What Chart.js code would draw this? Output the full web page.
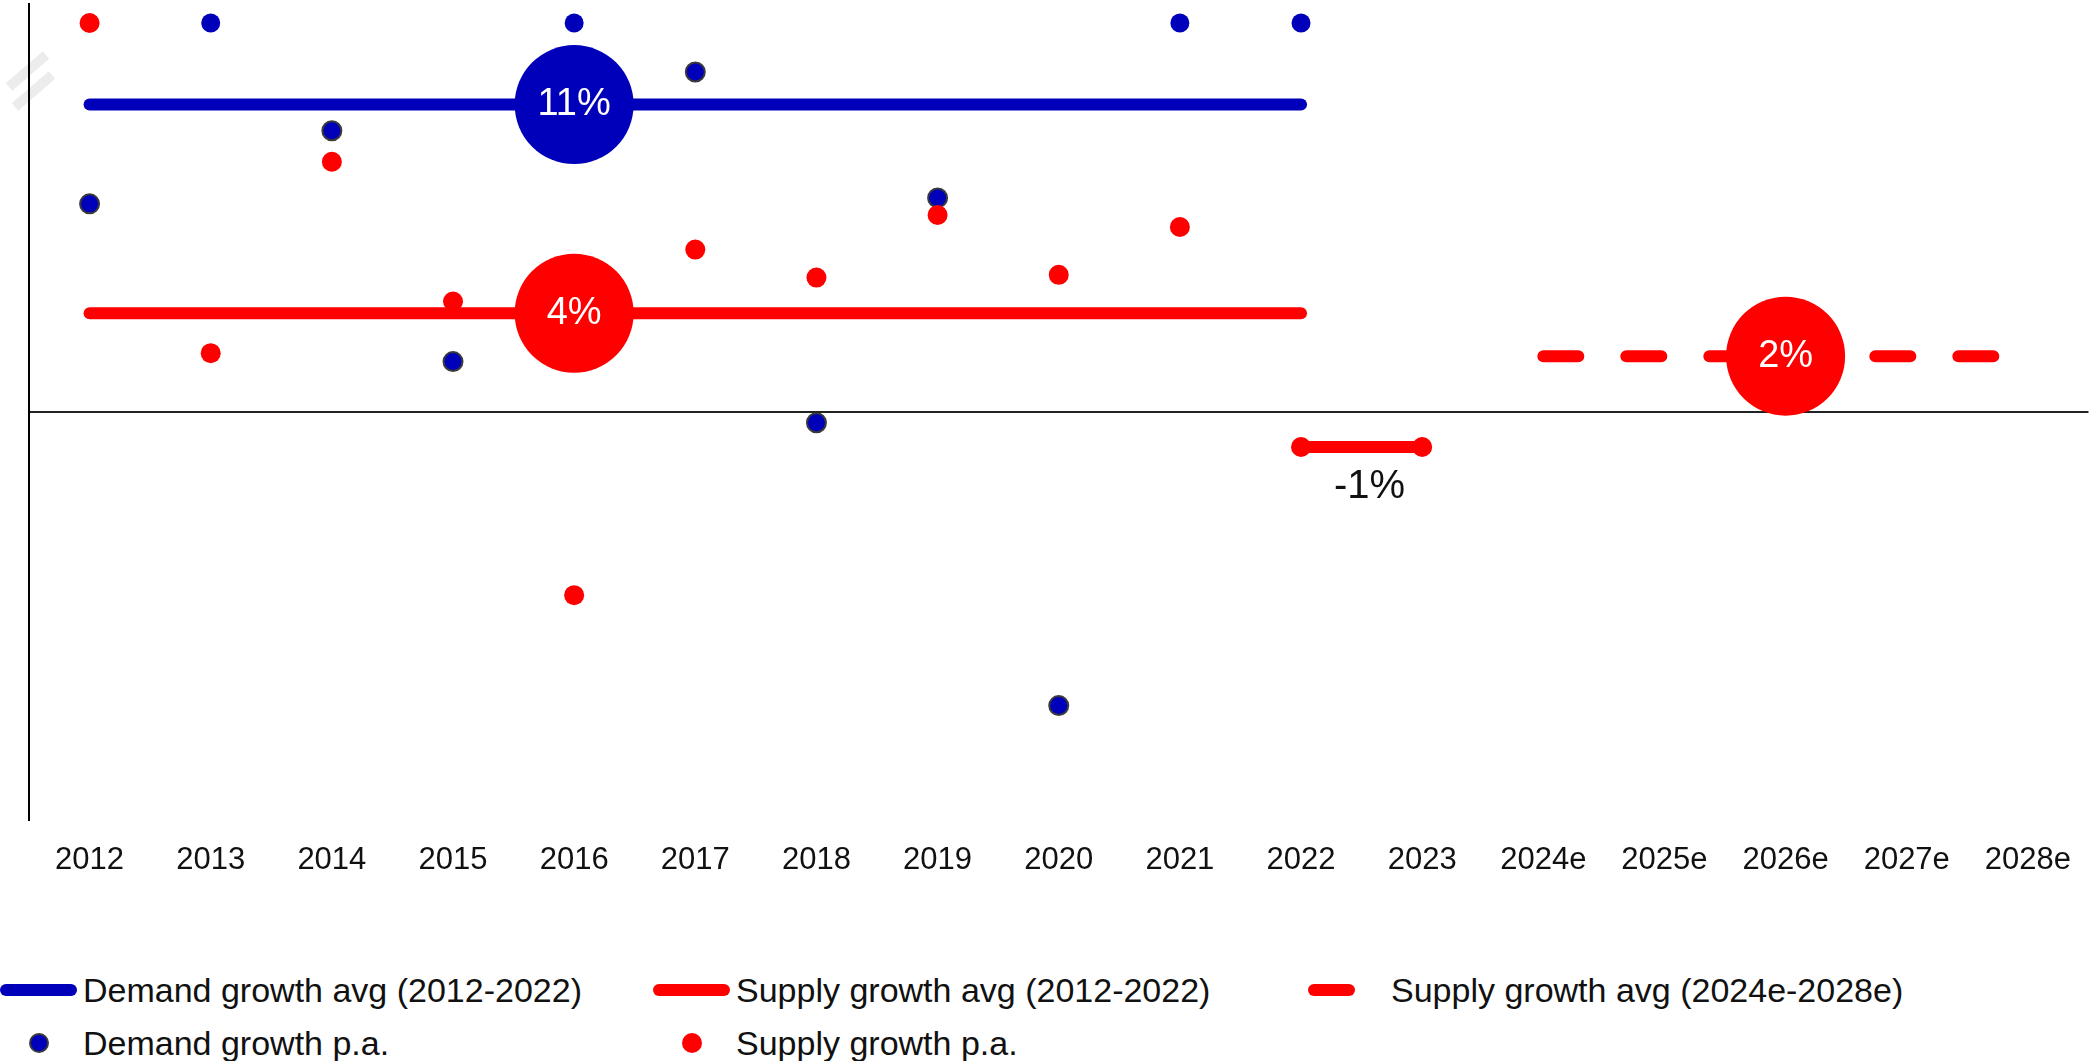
<!DOCTYPE html>
<html>
<head>
<meta charset="utf-8">
<title>Demand vs supply growth</title>
<script src="https://cdn.jsdelivr.net/npm/chart.js"></script>
<style>
  html, body { margin: 0; padding: 0; background: #fff; }
  body { width: 2093px; height: 1061px; position: relative; overflow: hidden; font-family: 'Liberation Sans', Arial, sans-serif; color: #111; }
  .chart-box { position: absolute; left: 0; top: 0; width: 2093px; height: 905px; }
  #legend { position: absolute; left: 0; top: 970px; width: 2093px; display: grid; grid-template-columns: 653px 655px 785px; row-gap: 13px; }
  .item { display: flex; align-items: center; height: 40px; font-size: 34px; white-space: nowrap; }
  .sym { width: 80px; height: 24px; position: relative; margin-right: 3px; flex: none; }
  .sym .bar { position: absolute; left: 0; top: 6px; height: 12px; border-radius: 6px; }
  .sym .dot { position: absolute; left: 29px; top: 2px; width: 20px; height: 20px; border-radius: 50%; box-sizing: border-box; }
</style>
</head>
<body>
<div class="chart-box"><canvas id="growthChart"></canvas></div>
<div id="legend"></div>

<script>
  // categories
  const years = ['2012', '2013', '2014', '2015', '2016', '2017', '2018', '2019', '2020',
                 '2021', '2022', '2023', '2024e', '2025e', '2026e', '2027e', '2028e'];

  // growth p.a. in % (14.3 = point sits at the axis break, real value is off the scale)
  const demandGrowth = [7.65, 14.3, 10.34, 1.85, 14.3, 12.5, -0.4, 7.87, -10.8, 14.3, 14.3,
                        null, null, null, null, null, null];
  const supplyGrowth = [14.3, 2.16, 9.2, 4.06, -6.74, 5.97, 4.94, 7.24, 5.04, 6.8, null,
                        null, null, null, null, null, null];
  const demandBroken = [false, true, false, false, true, false, false, false, false, true, true,
                        false, false, false, false, false, false];

  // averages
  const demandAvg = [11.3, 11.3, 11.3, 11.3, 11.3, 11.3, 11.3, 11.3, 11.3, 11.3, 11.3,
                     null, null, null, null, null, null];
  const supplyAvg = [3.63, 3.63, 3.63, 3.63, 3.63, 3.63, 3.63, 3.63, 3.63, 3.63, 3.63,
                     null, null, null, null, null, null];
  const supplyDip = [null, null, null, null, null, null, null, null, null, null, -1.29, -1.29,
                     null, null, null, null, null];
  const supplyOutlook = [null, null, null, null, null, null, null, null, null, null, null, null,
                         2.05, 2.05, 2.05, 2.05, 2.05];

  const avgLabels = { demand: '11%', supply: '4%', dip: '-1%', outlook: '2%' };

  const BLUE = '#0000BB';
  const RED = '#FF0000';
  const FONT = "'Liberation Sans', Arial, sans-serif";

  // big round marker only on one category
  const bubbleAt = (idx) => years.map((_, i) => (i === idx ? 59.5 : 0));

  // draws the percentages inside the bubbles / under the dip segment
  const tagPlugin = {
    id: 'tags',
    afterDatasetsDraw(chart) {
      const ctx = chart.ctx;
      chart.data.datasets.forEach((ds, i) => {
        if (!ds.tag) return;
        const pts = chart.getDatasetMeta(i).data.filter(p => !p.skip);
        let x, y;
        if (ds.tag.at != null) {
          const p = chart.getDatasetMeta(i).data[ds.tag.at];
          x = p.x; y = p.y;
        } else {
          x = (pts[0].x + pts[pts.length - 1].x) / 2;
          y = pts[0].y;
        }
        ctx.save();
        ctx.font = ds.tag.size + 'px ' + FONT;
        ctx.fillStyle = ds.tag.color;
        ctx.textAlign = 'center';
        ctx.textBaseline = 'middle';
        ctx.fillText(ds.tag.text, x + (ds.tag.dx || 0), y + (ds.tag.dy || 0));
        ctx.restore();
      });
    }
  };

  // the little "//" break sign on the y axis
  const breakPlugin = {
    id: 'axisBreak',
    beforeDraw(chart) {
      const ctx = chart.ctx;
      const l = chart.chartArea.left;
      ctx.save();
      ctx.strokeStyle = '#ececec';
      ctx.lineWidth = 10;
      ctx.beginPath();
      ctx.moveTo(l - 20, 87); ctx.lineTo(l + 17, 55);
      ctx.moveTo(l - 14, 107); ctx.lineTo(l + 23, 75);
      ctx.stroke();
      ctx.restore();
    }
  };

  const htmlLegend = {
    id: 'htmlLegend',
    afterUpdate(chart) {
      const box = document.getElementById('legend');
      box.innerHTML = '';
      chart.data.datasets.forEach(ds => {
        if (!ds.inLegend) return;
        const item = document.createElement('div');
        item.className = 'item';
        const sym = document.createElement('div');
        sym.className = 'sym';
        const mark = document.createElement('div');
        if (ds.showLine === false) {
          mark.className = 'dot';
          mark.style.background = ds.backgroundColor;
          if (ds.legendBorder) mark.style.border = '2px solid ' + ds.legendBorder;
        } else {
          mark.className = 'bar';
          mark.style.background = ds.borderColor;
          mark.style.width = (ds.borderDash ? 47 : 77) + 'px';
        }
        sym.appendChild(mark);
        const txt = document.createElement('span');
        txt.textContent = ds.label;
        item.appendChild(sym);
        item.appendChild(txt);
        box.appendChild(item);
      });
    }
  };

  Chart.defaults.font.family = FONT;
  Chart.defaults.color = '#111';

  new Chart(document.getElementById('growthChart'), {
    type: 'line',
    data: {
      labels: years,
      datasets: [
        {
          label: 'Demand growth avg (2012-2022)',
          inLegend: true,
          data: demandAvg,
          borderColor: BLUE,
          backgroundColor: BLUE,
          borderWidth: 12,
          borderCapStyle: 'round',
          pointRadius: bubbleAt(4),
          pointBorderWidth: 0,
          order: 5,
          tag: { text: avgLabels.demand, at: 4, size: 38, color: '#fff' }
        },
        {
          label: 'Supply growth avg (2012-2022)',
          inLegend: true,
          data: supplyAvg,
          borderColor: RED,
          backgroundColor: RED,
          borderWidth: 12,
          borderCapStyle: 'round',
          pointRadius: bubbleAt(4),
          pointBorderWidth: 0,
          order: 4,
          tag: { text: avgLabels.supply, at: 4, size: 38, color: '#fff' }
        },
        {
          label: 'Supply growth avg (2024e-2028e)',
          inLegend: true,
          data: supplyOutlook,
          borderColor: RED,
          backgroundColor: RED,
          borderWidth: 12,
          borderCapStyle: 'round',
          borderDash: [35, 48],
          pointRadius: bubbleAt(14),
          pointBorderWidth: 0,
          order: 3,
          tag: { text: avgLabels.outlook, at: 14, size: 38, color: '#fff' }
        },
        {
          label: 'Demand growth p.a.',
          inLegend: true,
          data: demandGrowth,
          showLine: false,
          backgroundColor: BLUE,
          borderColor: '#3a3a3a',
          legendBorder: '#3a3a3a',
          pointRadius: 9.5,
          pointBorderWidth: demandBroken.map(b => (b ? 0 : 2)),
          order: 1
        },
        {
          label: 'Supply growth p.a.',
          inLegend: true,
          data: supplyGrowth,
          showLine: false,
          backgroundColor: RED,
          borderColor: RED,
          pointRadius: 10,
          pointBorderWidth: 0,
          order: 0
        },
        {
          label: 'Supply dip 2022-2023',
          inLegend: false,
          data: supplyDip,
          borderColor: RED,
          backgroundColor: RED,
          borderWidth: 12,
          pointRadius: 10,
          pointBorderWidth: 0,
          order: 2,
          tag: { text: avgLabels.dip, size: 40, color: '#111', dx: 8, dy: 40 }
        }
      ]
    },
    options: {
      responsive: true,
      maintainAspectRatio: false,
      animation: false,
      events: [],
      layout: { autoPadding: false, padding: { left: 29, top: 4, right: 0, bottom: 4 } },
      plugins: {
        legend: { display: false },
        tooltip: { enabled: false }
      },
      scales: {
        x: {
          offset: true,
          grid: { display: false, drawTicks: false },
          border: { display: false },
          ticks: { padding: 22, font: { size: 31 }, color: '#111', maxRotation: 0, autoSkip: false }
        },
        y: {
          min: -15,
          max: 15,
          ticks: { display: false, stepSize: 5 },
          border: { display: true, color: '#000', width: 2 },
          grid: {
            drawTicks: false,
            lineWidth: 2,
            color: (c) => (c.tick && c.tick.value === 0 ? '#222' : 'rgba(0,0,0,0)')
          }
        }
      }
    },
    plugins: [tagPlugin, breakPlugin, htmlLegend]
  });
</script>
</body>
</html>
